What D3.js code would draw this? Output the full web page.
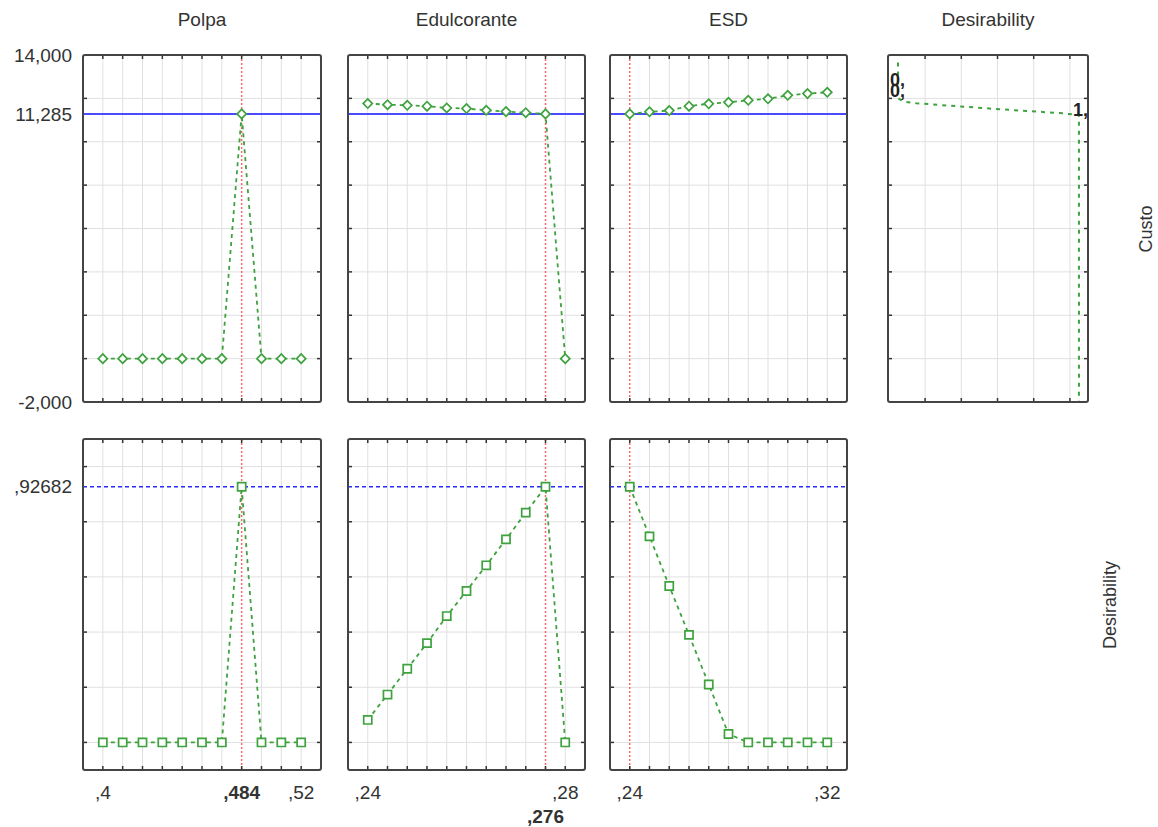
<!DOCTYPE html>
<html>
<head>
<meta charset="utf-8">
<script src="https://cdn.jsdelivr.net/npm/d3@7"></script>
<style>
body { margin: 0; background: #fff; }
text { font-family: "Liberation Sans", Arial, sans-serif; fill: #333; }
</style>
</head>
<body>
<div id="chart"></div>
<script>
// factor levels (x of each profile)
var polpaLevels = [0.4, 0.412, 0.424, 0.436, 0.448, 0.46, 0.472, 0.484, 0.496, 0.508, 0.52];
var edulcLevels = [0.24, 0.244, 0.248, 0.252, 0.256, 0.26, 0.264, 0.268, 0.272, 0.276, 0.28];
var esdLevels = [0.24, 0.248, 0.256, 0.264, 0.272, 0.28, 0.288, 0.296, 0.304, 0.312, 0.32];

var factorNames = ["Polpa", "Edulcorante", "ESD"];
var currentLevel = [0.484, 0.276, 0.24];
var axisEnds = [[0.4, 0.52], [0.24, 0.28], [0.24, 0.32]];

// predicted Custo
var custoPolpa = [0, 0, 0, 0, 0, 0, 0, 11.285, 0, 0, 0];
var custoEdulc = [11.76, 11.71, 11.68, 11.64, 11.56, 11.53, 11.45, 11.39, 11.34, 11.285, 0];
var custoESD = [11.285, 11.38, 11.44, 11.64, 11.75, 11.82, 11.91, 11.98, 12.14, 12.22, 12.28];

// desirability
var desPolpa = [0, 0, 0, 0, 0, 0, 0, 0.92682, 0, 0, 0];
var desEdulc = [0.0815, 0.1735, 0.267, 0.36, 0.458, 0.549, 0.642, 0.736, 0.833, 0.92682, 0];
var desESD = [0.92682, 0.747, 0.567, 0.39, 0.21, 0.0305, 0, 0, 0, 0, 0];

var custoNow = 11.285, desNow = 0.92682;
var custoTickLabels = [14, 11.285, -2];
var desTickLabels = [0.92682];

// desirability function for Custo (x = desirability, y = Custo)
var dfDes = [0, 0, 0.028, 0.1, 0.29, 0.56, 0.77, 0.91, 0.975, 1, 1];
var dfCusto = [13.65, 12.02, 11.85, 11.78, 11.66, 11.5, 11.39, 11.31, 11.25, 11.24, -2];
var dfGrid = [0.15, 0.35, 0.55, 0.75, 0.95];
var dfLabels = [{t: "0,", d: 0, c: 12.57}, {t: "0,", d: 0, c: 12.06}, {t: "1,", d: 1, c: 11.2}];

var levels = [polpaLevels, edulcLevels, esdLevels];
var custo = [custoPolpa, custoEdulc, custoESD];
var des = [desPolpa, desEdulc, desESD];

var width = 1158, height = 827;
var cols = [[83, 321], [348, 585], [610, 847]];
var dfCol = [888, 1088];

var green = "#3ea23e";

var svg = d3.select("#chart").append("svg")
  .attr("width", width)
  .attr("height", height);

var yTop = d3.scaleLinear().domain([-2, 14]).range([402, 55]);
var yBot = d3.scaleLinear().domain([-0.1, 1.1]).range([770, 439]);

var commaNum = function(f) {
  return function(v) {
    return d3.format(f)(v).replace("\u2212", "-").replace(".", ",").replace(/^0,/, ",");
  };
};

function frame(g, x, y, xt, yt, skipX) {
  var r = x.range(), s = y.range();
  g.selectAll(".vg").data(xt.filter(function(d) { return d !== skipX; }))
    .enter().append("line")
      .attr("x1", function(d) { return x(d); }).attr("x2", function(d) { return x(d); })
      .attr("y1", s[1]).attr("y2", s[0])
      .attr("stroke", "#e0e0e0").attr("stroke-width", 1);
  g.selectAll(".hg").data(yt)
    .enter().append("line")
      .attr("x1", r[0]).attr("x2", r[1])
      .attr("y1", function(d) { return y(d); }).attr("y2", function(d) { return y(d); })
      .attr("stroke", "#e0e0e0").attr("stroke-width", 1);
}

function border(g, x, y, xt, yt) {
  var r = x.range(), s = y.range();
  var tk = g.append("g").attr("stroke", "#333").attr("stroke-width", 1.5);
  xt.forEach(function(d) {
    tk.append("line").attr("x1", x(d)).attr("x2", x(d)).attr("y1", s[1]).attr("y2", s[1] + 4);
    tk.append("line").attr("x1", x(d)).attr("x2", x(d)).attr("y1", s[0]).attr("y2", s[0] - 4);
  });
  yt.forEach(function(d) {
    tk.append("line").attr("x1", r[0]).attr("x2", r[0] + 4).attr("y1", y(d)).attr("y2", y(d));
    tk.append("line").attr("x1", r[1]).attr("x2", r[1] - 4).attr("y1", y(d)).attr("y2", y(d));
  });
  g.append("rect")
    .attr("x", r[0]).attr("y", s[1])
    .attr("width", r[1] - r[0]).attr("height", s[0] - s[1])
    .attr("rx", 2)
    .attr("fill", "none").attr("stroke", "#444").attr("stroke-width", 2);
}

factorNames.forEach(function(name, i) {
  var lv = levels[i];
  var step = lv[1] - lv[0];
  var x = d3.scaleLinear().domain([lv[0] - step, lv[lv.length - 1] + step]).range(cols[i]);

  [[yTop, custo[i], custoNow, "top"], [yBot, des[i], desNow, "bot"]].forEach(function(row) {
    var y = row[0], vals = row[1], now = row[2];
    var g = svg.append("g");
    var yt = y === yTop ? y.ticks(8) : y.ticks(6);
    var inner = y === yTop ? yt.slice(1, -1) : yt;
    frame(g, x, y, lv, inner, currentLevel[i]);

    // reference lines
    g.append("line")
      .attr("x1", cols[i][0]).attr("x2", cols[i][1])
      .attr("y1", y(now)).attr("y2", y(now))
      .attr("stroke", row[3] === "top" ? "#4a4aff" : "#2a2aff")
      .attr("stroke-width", row[3] === "top" ? 2 : 1.3)
      .attr("stroke-dasharray", row[3] === "top" ? null : "4,3");
    g.append("line")
      .attr("x1", x(currentLevel[i])).attr("x2", x(currentLevel[i]))
      .attr("y1", y.range()[1]).attr("y2", y.range()[0])
      .attr("stroke", "#f46a6a").attr("stroke-width", 1.5)
      .attr("stroke-dasharray", "2,2");

    var line = d3.line()
      .x(function(d, k) { return x(lv[k]); })
      .y(function(d) { return y(d); });
    g.append("path")
      .datum(vals)
      .attr("d", line)
      .attr("fill", "none")
      .attr("stroke", green)
      .attr("stroke-width", 1.8)
      .attr("stroke-dasharray", "4,4");

    var sym = row[3] === "top"
      ? d3.symbol().type(d3.symbolSquare).size(42)
      : d3.symbol().type(d3.symbolSquare).size(66);
    g.selectAll(".m").data(vals).enter().append("path")
      .attr("d", sym)
      .attr("transform", function(d, k) {
        return "translate(" + x(lv[k]) + "," + y(d) + ")" + (row[3] === "top" ? " rotate(45)" : "");
      })
      .attr("fill", "#fff")
      .attr("stroke", green)
      .attr("stroke-width", 1.7);

    border(g, x, y, lv, inner);
  });

  // column title
  svg.append("text")
    .attr("x", (cols[i][0] + cols[i][1]) / 2).attr("y", 26)
    .attr("text-anchor", "middle")
    .style("font-size", "19px")
    .text(name);

  // x labels: ends + current value in bold
  var fx = commaNum(".3~f");
  axisEnds[i].forEach(function(v) {
    svg.append("text")
      .attr("x", x(v)).attr("y", 799)
      .attr("text-anchor", "middle")
      .style("font-size", "19px")
      .text(fx(v));
  });
  if (axisEnds[i].indexOf(currentLevel[i]) < 0) {
    var near = axisEnds[i].some(function(v) { return Math.abs(x(v) - x(currentLevel[i])) < 40; });
    svg.append("text")
      .attr("x", x(currentLevel[i])).attr("y", near ? 823 : 799)
      .attr("text-anchor", "middle")
      .style("font-size", "19px")
      .style("font-weight", "bold")
      .text(fx(currentLevel[i]));
  }
});

// y labels
custoTickLabels.forEach(function(v) {
  svg.append("text")
    .attr("x", 72).attr("y", yTop(v)).attr("dy", "0.35em")
    .attr("text-anchor", "end")
    .style("font-size", "19px")
    .text(commaNum(".3f")(v));
});
desTickLabels.forEach(function(v) {
  svg.append("text")
    .attr("x", 72).attr("y", yBot(v)).attr("dy", "0.35em")
    .attr("text-anchor", "end")
    .style("font-size", "19px")
    .text(commaNum(".5f")(v));
});

// desirability function panel
var xd = d3.scaleLinear().domain([-0.055, 1.05]).range(dfCol);
var gd = svg.append("g");
frame(gd, xd, yTop, dfGrid, yTop.ticks(8).slice(1, -1));
gd.append("path")
  .datum(dfDes)
  .attr("d", d3.line()
    .x(function(d) { return xd(d); })
    .y(function(d, k) { return yTop(dfCusto[k]); }))
  .attr("fill", "none")
  .attr("stroke", green)
  .attr("stroke-width", 2)
  .attr("stroke-dasharray", "4,5");
border(gd, xd, yTop, dfGrid, yTop.ticks(8).slice(1, -1));
dfLabels.forEach(function(l) {
  gd.append("text")
    .attr("x", xd(l.d) + (l.d === 0 ? -8 : -6)).attr("y", yTop(l.c))
    .style("font-size", "18px")
    .style("font-weight", "bold")
    .style("fill", "#222")
    .text(l.t);
});
svg.append("text")
  .attr("x", (dfCol[0] + dfCol[1]) / 2).attr("y", 26)
  .attr("text-anchor", "middle")
  .style("font-size", "19px")
  .text("Desirability");

// row titles on the right
[["Custo", 1146, 229], ["Desirability", 1110, 605]].forEach(function(t) {
  svg.append("text")
    .attr("transform", "translate(" + t[1] + "," + t[2] + ") rotate(-90)")
    .attr("text-anchor", "middle")
    .attr("dy", "0.35em")
    .style("font-size", "18px")
    .text(t[0]);
});
</script>
</body>
</html>
